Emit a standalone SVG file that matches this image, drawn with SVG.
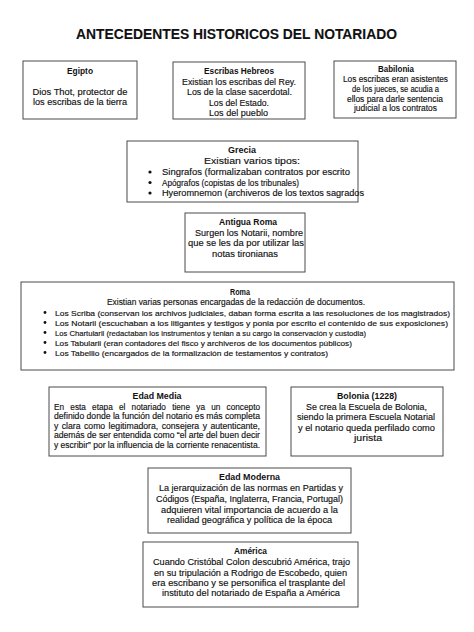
<svg xmlns="http://www.w3.org/2000/svg" width="474" height="632" viewBox="0 0 474 632">
<style>
text{font-family:"Liberation Sans",Arial,sans-serif;fill:#111;stroke:#111;stroke-width:0.15px;}
.h{font-size:14px;font-weight:bold;text-anchor:middle;stroke-width:0.1px;}
.t{font-size:8.6px;font-weight:bold;text-anchor:middle;stroke-width:0;}
.c{font-size:8.8px;text-anchor:middle;}
.l{font-size:8.8px;text-anchor:start;}
.m{font-size:8.3px;}
.s{font-size:8px;text-anchor:start;}
.box{fill:#fff;stroke:#4a4a4a;stroke-width:1;}
.dot{fill:#111;}
</style>
<rect width="474" height="632" fill="#fff"/>
<text class="h" x="236.5" y="38.5" textLength="321" lengthAdjust="spacingAndGlyphs">ANTECEDENTES HISTORICOS DEL NOTARIADO</text>

<g id="egipto">
<rect class="box" x="23" y="61" width="114" height="58"/>
<text class="t" x="80" y="73.5" textLength="26" lengthAdjust="spacingAndGlyphs">Egipto</text>
<text class="c" x="80" y="94.5" textLength="95" lengthAdjust="spacingAndGlyphs">Dios Thot, protector de</text>
<text class="c" x="80" y="105" textLength="94" lengthAdjust="spacingAndGlyphs">los escribas de la tierra</text>
</g>

<g id="hebreos">
<rect class="box" x="173" y="62" width="132" height="57"/>
<text class="t" x="239" y="74" textLength="70" lengthAdjust="spacingAndGlyphs">Escribas Hebreos</text>
<text class="c" x="239" y="84.5" textLength="114" lengthAdjust="spacingAndGlyphs">Existian los escribas del Rey.</text>
<text class="c" x="239.5" y="95" textLength="105" lengthAdjust="spacingAndGlyphs">Los de la clase sacerdotal.</text>
<text class="c" x="239" y="105.5" textLength="60" lengthAdjust="spacingAndGlyphs">Los del Estado.</text>
<text class="c" x="238.5" y="116" textLength="59" lengthAdjust="spacingAndGlyphs">Los del pueblo</text>
</g>

<g id="babilonia">
<rect class="box" x="334" y="61" width="122" height="57"/>
<text class="t" x="396" y="72" textLength="36" lengthAdjust="spacingAndGlyphs">Babilonia</text>
<text class="c m" x="395.5" y="82" textLength="105" lengthAdjust="spacingAndGlyphs">Los escribas eran asistentes</text>
<text class="c m" x="395.5" y="92" textLength="87" lengthAdjust="spacingAndGlyphs">de los jueces, se acudia a</text>
<text class="c m" x="395" y="101.5" textLength="96" lengthAdjust="spacingAndGlyphs">ellos para darle sentencia</text>
<text class="c m" x="395.5" y="111" textLength="83" lengthAdjust="spacingAndGlyphs">judicial a los contratos</text>
</g>

<g id="grecia">
<rect class="box" x="127" y="141" width="231" height="61"/>
<text class="t" x="242" y="152.5" textLength="28" lengthAdjust="spacingAndGlyphs">Grecia</text>
<text class="c" x="252" y="163.5" textLength="96" lengthAdjust="spacingAndGlyphs">Existian varios tipos:</text>
<circle class="dot" cx="150" cy="172" r="1.6"/>
<text class="l" x="162" y="175" textLength="188" lengthAdjust="spacingAndGlyphs">Singrafos (formalizaban contratos por escrito</text>
<circle class="dot" cx="150" cy="182.5" r="1.6"/>
<text class="l" x="162" y="185.5" textLength="137" lengthAdjust="spacingAndGlyphs">Apógrafos (copistas de los tribunales)</text>
<circle class="dot" cx="150" cy="193" r="1.6"/>
<text class="l" x="162" y="196" textLength="202" lengthAdjust="spacingAndGlyphs">Hyeromnemon (archiveros de los textos sagrados</text>
</g>

<g id="antigua-roma">
<rect class="box" x="185" y="213" width="120" height="59"/>
<text class="t" x="248" y="225" textLength="58" lengthAdjust="spacingAndGlyphs">Antigua Roma</text>
<text class="c" x="249" y="235.5" textLength="108" lengthAdjust="spacingAndGlyphs">Surgen los Notarii, nombre</text>
<text class="c" x="246" y="246" textLength="116" lengthAdjust="spacingAndGlyphs">que se les da por utilizar las</text>
<text class="c" x="245" y="256.5" textLength="66" lengthAdjust="spacingAndGlyphs">notas tironianas</text>
</g>

<g id="roma">
<rect class="box" x="21" y="282" width="433" height="88"/>
<text class="t" x="240" y="294.5" textLength="20" lengthAdjust="spacingAndGlyphs">Roma</text>
<text class="c m" x="236" y="305" textLength="258" lengthAdjust="spacingAndGlyphs">Existian varias personas encargadas de la redacción de documentos.</text>
<circle class="dot" cx="45" cy="312.5" r="1.4"/>
<text class="s" x="55" y="315.5" textLength="395" lengthAdjust="spacingAndGlyphs">Los Scriba (conservan los archivos judiciales, daban forma escrita a las resoluciones de los magistrados)</text>
<circle class="dot" cx="45" cy="322.5" r="1.4"/>
<text class="s" x="55" y="325.5" textLength="393" lengthAdjust="spacingAndGlyphs">Los Notarii (escuchaban a los litigantes y testigos y ponia por escrito el contenido de sus exposiciones)</text>
<circle class="dot" cx="45" cy="332.5" r="1.4"/>
<text class="s" x="55" y="335.5" textLength="311" lengthAdjust="spacingAndGlyphs">Los Chartularii (redactaban los instrumentos y tenian a su cargo la conservación y custodia)</text>
<circle class="dot" cx="45" cy="342.5" r="1.4"/>
<text class="s" x="55" y="345.5" textLength="297" lengthAdjust="spacingAndGlyphs">Los Tabularii (eran contadores del fisco y archiveros de los documentos públicos)</text>
<circle class="dot" cx="45" cy="352.5" r="1.4"/>
<text class="s" x="55" y="355.5" textLength="273" lengthAdjust="spacingAndGlyphs">Los Tabellio (encargados de la formalización de testamentos y contratos)</text>
</g>

<g id="edad-media">
<rect class="box" x="49" y="387" width="217" height="69"/>
<text class="t" x="157" y="399" textLength="49" lengthAdjust="spacingAndGlyphs">Edad Media</text>
<text class="l m" x="54" y="409.5" textLength="206" lengthAdjust="spacingAndGlyphs" word-spacing="4">En esta etapa el notariado tiene ya un concepto</text>
<text class="l m" x="54" y="419" textLength="206" lengthAdjust="spacingAndGlyphs">definido donde la función del notario es más completa</text>
<text class="l m" x="54" y="428.5" textLength="206" lengthAdjust="spacingAndGlyphs" word-spacing="1">y clara como legitimadora, consejera y autenticante,</text>
<text class="l m" x="54" y="438" textLength="206" lengthAdjust="spacingAndGlyphs">además de ser entendida como “el arte del buen decir</text>
<text class="l m" x="54" y="447.5" textLength="206" lengthAdjust="spacingAndGlyphs">y escribir” por la influencia de la corriente renacentista.</text>
</g>

<g id="bolonia">
<rect class="box" x="291" y="387" width="152" height="69"/>
<text class="t" x="367" y="399" textLength="60" lengthAdjust="spacingAndGlyphs">Bolonia (1228)</text>
<text class="c" x="366.5" y="409.5" textLength="121" lengthAdjust="spacingAndGlyphs">Se crea la Escuela de Bolonia,</text>
<text class="c" x="366" y="420" textLength="138" lengthAdjust="spacingAndGlyphs">siendo la primera Escuela Notarial</text>
<text class="c" x="366.5" y="430.5" textLength="137" lengthAdjust="spacingAndGlyphs">y el notario queda perfilado como</text>
<text class="c" x="368" y="441" textLength="28" lengthAdjust="spacingAndGlyphs">jurista</text>
</g>

<g id="edad-moderna">
<rect class="box" x="148" y="468" width="203" height="65"/>
<text class="t" x="249.5" y="480" textLength="61" lengthAdjust="spacingAndGlyphs">Edad Moderna</text>
<text class="c" x="251" y="491" textLength="184" lengthAdjust="spacingAndGlyphs">La jerarquización de las normas en Partidas y</text>
<text class="c" x="249.5" y="502" textLength="187" lengthAdjust="spacingAndGlyphs">Códigos (España, Inglaterra, Francia, Portugal)</text>
<text class="c" x="249.5" y="512.5" textLength="177" lengthAdjust="spacingAndGlyphs">adquieren vital importancia de acuerdo a la</text>
<text class="c" x="249.5" y="523" textLength="165" lengthAdjust="spacingAndGlyphs">realidad geográfica y política de la época</text>
</g>

<g id="america">
<rect class="box" x="143" y="542" width="215" height="65"/>
<text class="t" x="250.5" y="554" textLength="33" lengthAdjust="spacingAndGlyphs">América</text>
<text class="c" x="251.5" y="565" textLength="197" lengthAdjust="spacingAndGlyphs">Cuando Cristóbal Colon descubrió América, trajo</text>
<text class="c" x="250.5" y="575.5" textLength="193" lengthAdjust="spacingAndGlyphs">en su tripulación a Rodrigo de Escobedo, quien</text>
<text class="c" x="248.5" y="585.5" textLength="193" lengthAdjust="spacingAndGlyphs">era escribano y se personifica el trasplante del</text>
<text class="c" x="251" y="596" textLength="178" lengthAdjust="spacingAndGlyphs">instituto del notariado de España a América</text>
</g>

<g id="connectors"></g>
</svg>
